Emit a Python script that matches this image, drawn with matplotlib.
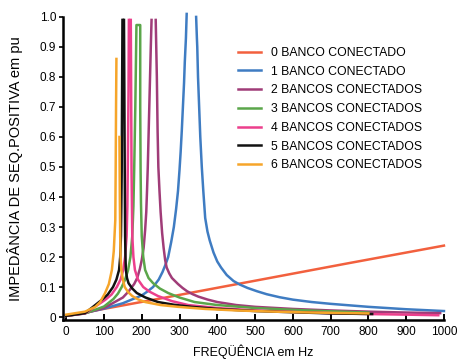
import numpy as np
import matplotlib
matplotlib.use("Agg")  # no display
import matplotlib.pyplot as plt

plt.rcParams["font.family"] = ["Liberation Sans", "DejaVu Sans"]

# ── Data (Hz, pu); nan = clipped resonance top ──
nan = np.nan

freq_0 = [0, 250, 500, 750, 1000]
imp_0 = [0.004, 0.062, 0.121, 0.180, 0.238]

freq_1 = [0, 50, 100, 150, 200, 215, 230, 245, 255, 263, 270, 278, 285, 291, 296, 300, 303,
          306, 309, 312, 314, 317, 319, nan,
          344, 346, 347, 349, 352, 355, 359, 363, 368, 374, 380, 390, 400, 410, 425, 443,
          460, 480, 505, 531, 565, 600, 650, 700, 800, 900, 1000]
imp_1 = [0.004, 0.014, 0.028, 0.046, 0.072, 0.085, 0.1, 0.125, 0.15, 0.175, 0.2, 0.25, 0.3,
         0.36, 0.42, 0.49, 0.55, 0.62, 0.7, 0.78, 0.85, 0.93, 1.01, nan,
         1.0, 0.93, 0.9, 0.8, 0.7, 0.6, 0.5, 0.42, 0.33, 0.285, 0.255, 0.215, 0.185, 0.165,
         0.14, 0.12, 0.108, 0.097, 0.086, 0.076, 0.066, 0.058, 0.05, 0.044, 0.034, 0.026, 0.02]

freq_2 = [0, 50, 100, 150, 165, 180, 188, 195, 200, 205, 209, 212, 214, 216, 220, 224, 226, nan,
          237, 240, 242, 244, 247, 250, 254, 258, 262, 266, 273, 280, 288, 296, 308, 320, 335,
          350, 375, 400, 450, 500, 600, 700, 800, 900, 990]
imp_2 = [0.004, 0.013, 0.03, 0.065, 0.085, 0.11, 0.13, 0.16, 0.19, 0.23, 0.29, 0.35, 0.42,
         0.5, 0.7, 0.9, 0.99, nan,
         0.99, 0.8, 0.62, 0.5, 0.42, 0.35, 0.28, 0.23, 0.19, 0.165, 0.145, 0.13, 0.12, 0.11,
         0.097, 0.086, 0.076, 0.068, 0.058, 0.05, 0.04, 0.034, 0.027, 0.022, 0.018, 0.015, 0.013]

freq_3 = [0, 50, 100, 125, 137, 147, 156, 164, 170, 175, 178, 180, 183, 186, 196,
          196, 197, 198, 200, 204, 209, 218, 230, 248, 270, 300, 340, 400, 500, 600, 700, 800]
imp_3 = [0.004, 0.012, 0.035, 0.06, 0.078, 0.1, 0.125, 0.157, 0.2, 0.27, 0.37, 0.49, 0.7,
         0.973, 0.973,
         0.7, 0.49, 0.38, 0.27, 0.2, 0.157, 0.13, 0.113, 0.095, 0.08, 0.065, 0.05, 0.04,
         0.03, 0.024, 0.019, 0.015]

freq_4 = [0, 50, 103, 120, 134, 144, 151, 156, 160, 162, 163, 165, 166, nan,
          171, 172, 173, 175, 178, 182, 190, 204, 220, 243, 280, 323, 400, 500, 600, 700,
          800, 900, 985]
imp_4 = [0.004, 0.012, 0.057, 0.075, 0.1, 0.125, 0.157, 0.2, 0.27, 0.37, 0.49, 0.75, 0.99, nan,
         0.99, 0.75, 0.49, 0.27, 0.2, 0.157, 0.125, 0.1, 0.085, 0.07, 0.053, 0.04, 0.03,
         0.022, 0.017, 0.013, 0.01, 0.008, 0.006]

freq_5 = [0, 50, 94, 110, 124, 133, 140, 143, 145, 146, 147, 148, 149, nan,
          153, 154, 155, 156, 157, 158, 161, 165, 175, 187, 210, 243, 285, 332, 400, 500,
          600, 700, 810]
imp_5 = [0.004, 0.013, 0.057, 0.075, 0.1, 0.125, 0.157, 0.2, 0.27, 0.37, 0.49, 0.75, 0.99, nan,
         0.99, 0.75, 0.49, 0.27, 0.2, 0.157, 0.13, 0.113, 0.095, 0.08, 0.065, 0.05, 0.041,
         0.034, 0.027, 0.02, 0.016, 0.012, 0.01]

freq_6 = [0, 50, 77, 90, 103, 113, 121, 126, 130, 131, 132, 133, nan,
          141, 142, 143, 144, 146, 150, 155, 164, 175, 190, 209, 250, 296, 368, 450, 550,
          650, 800]
imp_6 = [0.008, 0.018, 0.034, 0.05, 0.08, 0.11, 0.157, 0.22, 0.323, 0.49, 0.7, 0.86, nan,
         0.6, 0.4, 0.27, 0.2, 0.157, 0.125, 0.1, 0.083, 0.07, 0.059, 0.05, 0.04, 0.034,
         0.027, 0.022, 0.018, 0.015, 0.012]

labels = ["0 BANCO CONECTADO", "1 BANCO CONECTADO", "2 BANCOS CONECTADOS",
          "3 BANCOS CONECTADOS", "4 BANCOS CONECTADOS", "5 BANCOS CONECTADOS",
          "6 BANCOS CONECTADOS"]
colors = ["#f2603e", "#3f7cc2", "#a03c78", "#5ba64a", "#ec3f8c", "#111111", "#f6a52a"]

series = [(freq_0, imp_0), (freq_1, imp_1), (freq_2, imp_2), (freq_3, imp_3),
          (freq_4, imp_4), (freq_5, imp_5), (freq_6, imp_6)]

xticks = [0, 100, 200, 300, 400, 500, 600, 700, 800, 900, 1000]
yticks = [0, 0.1, 0.2, 0.3, 0.4, 0.5, 0.6, 0.7, 0.8, 0.9, 1.0]
ytick_labels = ["0", "0.1", "0.2", "0.3", "0.4", "0.5", "0.6", "0.7", "0.8", "0.9", "1.0"]

# ── Figure ───────────────────────────────────────────────────────────────────
fig = plt.figure(figsize=(4.61, 3.60), dpi=100)
ax = fig.add_axes([0.137, 0.111, 0.826, 0.842])

for (f, z), col, lab in zip(series, colors, labels):
    ax.plot(f, z, color=col, linewidth=1.8, label=lab, clip_on=False,
            solid_joinstyle="round")

ax.set_xlim(-8, 1000)
ax.set_ylim(-0.01, 1.0)
ax.set_xticks(xticks)
ax.set_xticklabels([str(t) for t in xticks])
ax.set_yticks(yticks)
ax.set_yticklabels(ytick_labels)

for side in ["top", "right"]:
    ax.spines[side].set_visible(False)
for side in ["left", "bottom"]:
    ax.spines[side].set_linewidth(1.8)

ax.tick_params(axis="x", direction="in", length=4, width=1.4, pad=4, labelsize=8.5)
ax.tick_params(axis="y", direction="out", length=3, width=1.2, pad=2, labelsize=8.5)

ax.set_xlabel("FREQÜÊNCIA em Hz", fontsize=9, labelpad=5)
ax.set_ylabel("IMPEDÂNCIA DE SEQ.POSITIVA em pu", fontsize=10.5, labelpad=12)

ax.legend(loc="upper left", bbox_to_anchor=(238 / 461, 1 - 47 / 360),
          bbox_transform=fig.transFigure, frameon=False, fontsize=8.8,
          handlelength=1.9, handletextpad=0.8, labelspacing=0.55,
          borderpad=0, borderaxespad=0)

plt.savefig("out.png", dpi=100)
plt.close()
